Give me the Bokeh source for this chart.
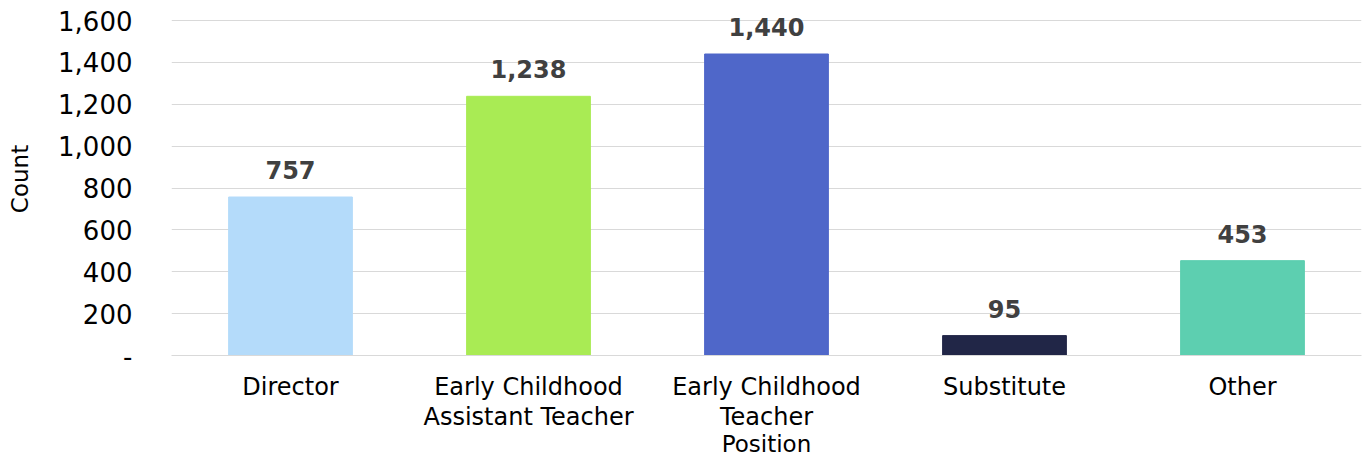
from bokeh.plotting import figure
from bokeh.models import ColumnDataSource, Range1d, FixedTicker, NumeralTickFormatter
from bokeh.embed import file_html
from bokeh.resources import INLINE
from bokeh.core.properties import value

categories = ["Director", "Early Childhood\nAssistant Teacher", "Early Childhood\nTeacher", "Substitute", "Other"]
counts = [757, 1238, 1440, 95, 453]
colors = ["#B4DBFA", "#A9EB54", "#4F67C9", "#212647", "#5DCFB0"]
y_ticks = [0, 200, 400, 600, 800, 1000, 1200, 1400, 1600]

labels = ["{:,}".format(c) for c in counts]
src = ColumnDataSource(dict(cat=categories, count=counts, color=colors, label=labels))

FONT = "DejaVu Sans"

p = figure(x_range=categories, y_range=Range1d(0, 1686), width=1363, height=460,
           output_backend="svg", toolbar_location=None,
           min_border_left=171, min_border_right=2, min_border_top=2, min_border_bottom=105)
p.outline_line_color = None

p.vbar(x="cat", top="count", width=0.52, color="color", source=src)
p.text(x="cat", y="count", text="label", source=src, text_align="center", text_baseline="bottom",
       y_offset=-18, text_font=value(FONT), text_font_size="24px", text_font_style="bold",
       text_color="#404040")

p.xgrid.grid_line_color = None
p.ygrid.grid_line_color = "#D9D9D9"
p.ygrid.grid_line_width = 1
p.ygrid.ticker = FixedTicker(ticks=y_ticks)

p.yaxis.ticker = FixedTicker(ticks=y_ticks)
p.yaxis.formatter = NumeralTickFormatter(format="0,0")
p.yaxis.major_label_overrides = {0: "-"}
p.yaxis.axis_line_color = None
p.yaxis.major_tick_line_color = None
p.yaxis.minor_tick_line_color = None
p.yaxis.major_tick_out = 0
p.yaxis.minor_tick_out = 0
p.yaxis.major_label_standoff = 39
p.yaxis.axis_label = "Count"
p.yaxis.axis_label_standoff = 22

p.xaxis.axis_line_color = "#D9D9D9"
p.xaxis.major_tick_line_color = None
p.xaxis.minor_tick_line_color = None
p.xaxis.major_tick_out = 0
p.xaxis.minor_tick_out = 0
p.xaxis.major_label_standoff = 17
p.xaxis.major_label_text_line_height = 1.1
p.xaxis.axis_label = "Position"
p.xaxis.axis_label_standoff = -3

for ax in (p.xaxis[0], p.yaxis[0]):
    ax.major_label_text_font = FONT
    ax.major_label_text_color = "#000000"
    ax.axis_label_text_font = FONT
    ax.axis_label_text_font_size = "23px"
    ax.axis_label_text_font_style = "normal"
    ax.axis_label_text_color = "#000000"
p.xaxis.major_label_text_font_size = "24px"
p.yaxis.major_label_text_font_size = "26px"

open("out.html", "w").write(file_html(p, INLINE))
